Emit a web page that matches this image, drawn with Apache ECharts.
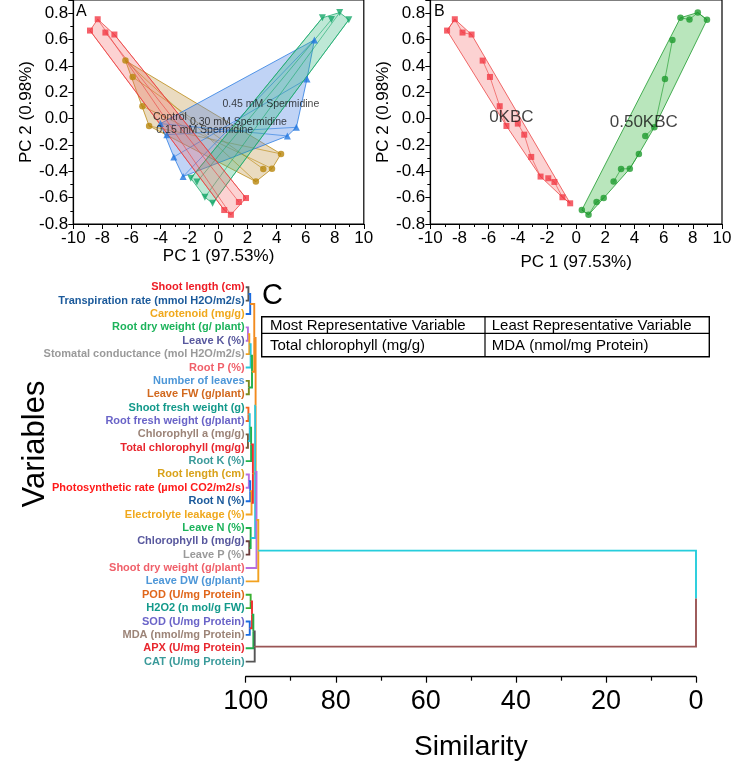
<!DOCTYPE html>
<html><head><meta charset="utf-8">
<script src="https://cdn.jsdelivr.net/npm/echarts@6/dist/echarts.min.js"></script>
<style>html,body{margin:0;padding:0;background:#fff}#c{width:744px;height:773px}</style>
</head><body><div id="c"></div>
<script>
// ---------- Panels A/B: PCA scores (PC1, PC2); each treatment: 4 obs at 0 KBC, 4 obs at 0.50 KBC ----------
const treatments = ['Control', '0.15 mM Spermidine', '0.30 mM Spermidine', '0.45 mM Spermidine'];
const ctrl_0KBC   = [[-8.85,0.668],[-8.32,0.754],[-7.79,0.653],[-7.17,0.638]];
const ctrl_50KBC  = [[0.39,-0.694],[0.85,-0.730],[1.40,-0.633],[1.89,-0.603]];
const sp15_0KBC   = [[-6.41,0.440],[-5.91,0.316],[-5.24,0.094],[-4.78,-0.056]];
const sp15_50KBC  = [[2.57,-0.478],[3.08,-0.382],[3.68,-0.380],[4.30,-0.268]];
const sp30_0KBC   = [[-4.00,-0.038],[-3.56,-0.122],[-3.08,-0.291],[-2.44,-0.440]];
const sp30_50KBC  = [[4.74,-0.132],[5.36,-0.066],[6.09,0.301],[6.60,0.597]];
const sp45_0KBC   = [[-1.91,-0.453],[-1.49,-0.481],[-0.94,-0.597],[-0.41,-0.643]];
const sp45_50KBC  = [[7.15,0.765],[7.77,0.752],[8.34,0.805],[8.97,0.750]];
// label anchors (data coords) for group names
const treatmentLabelPos = [[-4.55,0.008],[-4.32,-0.089],[-2.0,-0.028],[0.23,0.111]];
const kbcLevels = ['0KBC','0.50KBC'];
const kbcLabelPos = [[-6.0,0.012],[2.27,-0.03]];

// ---------- Panel C: dendrogram ----------
const leaves = ['Shoot length (cm)','Transpiration rate (mmol H2O/m2/s)','Carotenoid (mg/g)','Root dry weight (g/ plant)','Leave K (%)','Stomatal conductance (mol H2O/m2/s)','Root P (%)','Number of leaves','Leave FW (g/plant)','Shoot fresh weight (g)','Root fresh weight (g/plant)','Chlorophyll a (mg/g)','Total chlorophyll (mg/g)','Root K (%)','Root length (cm)','Photosynthetic rate (µmol CO2/m2/s)','Root N (%)','Electrolyte leakage (%)','Leave N (%)','Chlorophyll b (mg/g)','Leave P (%)','Shoot dry weight (g/plant)','Leave DW (g/plant)','POD (U/mg Protein)','H2O2 (n mol/g FW)','SOD (U/mg Protein)','MDA (nmol/mg Protein)','APX (U/mg Protein)','CAT (U/mg Protein)'];
const leafColors = ['#ee1c25','#1b5a9b','#f0a81c','#1cb35b','#58589e','#9a9a9a','#f0606a','#4d97d8','#d2691e','#12998a','#6a64c8','#9c8478','#e8262e','#3a9a9a','#d9a21a','#ff1a1a','#1b5a9b','#f0a81c','#1cb35b','#58589e','#9a9a9a','#f0606a','#4d97d8','#e0661a','#12998a','#6a64c8','#9c8478','#e8262e','#3a9a9a'];
// merges: [childA, childB, similarity]; leaves are 0..28, merge k creates node 29+k
const merges = [[0,1,99.4],[29,2,99.0],[3,4,99.5],[31,5,99.2],[32,6,98.9],[7,8,99.3],[33,34,98.6],[30,35,98.1],
  [9,10,99.4],[11,12,99.5],[37,38,99.1],[39,13,98.8],[14,15,99.3],[41,16,99.0],[42,17,98.7],[40,43,98.4],
  [36,44,97.8],[19,20,99.2],[18,46,98.9],[45,47,97.9],[48,21,97.6],[49,22,97.2],
  [23,24,98.9],[25,26,99.1],[51,52,98.6],[53,27,98.3],[54,28,98.0],[50,55,0]];
const mergeColors = [['#555555','#555555'],['#1a6be0','#1a6be0'],['#b76fe0','#b76fe0'],['#f2a11f','#f2a11f'],['#28c6d8','#28c6d8'],['#7a8a20','#7a8a20'],['#22b14c','#22b14c'],['#f28b1f','#f28b1f'],
  ['#f2641f','#f2641f'],['#7a5a3a','#7a5a3a'],['#28c6d8','#28c6d8'],['#22b14c','#22b14c'],['#b76fe0','#b76fe0'],['#1a6be0','#1a6be0'],['#f2a11f','#f2a11f'],['#ee3030','#ee3030'],
  ['#f28b1f','#f28b1f'],['#6a3a3a','#6a3a3a'],['#22b14c','#22b14c'],['#28c6d8','#28c6d8'],['#b76fe0','#b76fe0'],['#f2a11f','#f2a11f'],
  ['#39b030','#39b030'],['#1a6be0','#1a6be0'],['#ee3030','#ee3030'],['#22b14c','#22b14c'],['#555555','#555555'],['#26cddc','#9a5555']];
const tableHeader = ['Most Representative Variable','Least Representative Variable'];
const tableRow = ['Total chlorophyll (mg/g)','MDA (nmol/mg Protein)'];

// ---------- helpers ----------
function hull(pts){
  const p = pts.slice().sort((a,b)=>a[0]-b[0]||a[1]-b[1]);
  const cr=(o,a,b)=>(a[0]-o[0])*(b[1]-o[1])-(a[1]-o[1])*(b[0]-o[0]);
  const lo=[],up=[];
  for(const q of p){while(lo.length>=2&&cr(lo[lo.length-2],lo[lo.length-1],q)<=0)lo.pop();lo.push(q);}
  for(let i=p.length-1;i>=0;i--){const q=p[i];while(up.length>=2&&cr(up[up.length-2],up[up.length-1],q)<=0)up.pop();up.push(q);}
  up.pop();lo.pop();return lo.concat(up);
}
function hullSeries(xi, yi, pts, links, fill, stroke){
  const h = hull(pts);
  return {type:'custom', xAxisIndex:xi, yAxisIndex:yi, silent:true, z:1, clip:false,
    data: pts, encode:{x:0,y:1},
    renderItem(params, api){
      if (params.dataIndex !== 0) return null;
      const ch = [{type:'polygon', shape:{points:h.map(p=>api.coord(p))}, style:{fill:fill, stroke:stroke, lineWidth:1}}];
      links.forEach(([a,b])=>{const pa=api.coord(a), pb=api.coord(b);
        ch.push({type:'line', shape:{x1:pa[0],y1:pa[1],x2:pb[0],y2:pb[1]}, style:{stroke:stroke, lineWidth:0.8}});});
      return {type:'group', children:ch};
    }};
}
function pairLinks(a,b){return a.map((p,i)=>[p,b[i]]);}
function seqLinks(a){const r=[];for(let i=0;i<a.length-1;i++)r.push([a[i],a[i+1]]);return r;}

const FONT = 'Liberation Sans, Arial, sans-serif';
const groupsA = [
  {p0:ctrl_0KBC, p50:ctrl_50KBC, color:'#f23a45', symbol:'rect', size:6, rot:0, fill:'rgba(245,95,95,0.28)', stroke:'rgba(235,60,60,0.75)'},
  {p0:sp15_0KBC, p50:sp15_50KBC, color:'#b8860b', symbol:'circle', size:6.5, rot:0, fill:'rgba(200,160,90,0.38)', stroke:'rgba(184,134,11,0.75)'},
  {p0:sp30_0KBC, p50:sp30_50KBC, color:'#2277e0', symbol:'triangle', size:7, rot:0, fill:'rgba(90,140,230,0.38)', stroke:'rgba(34,119,224,0.75)'},
  {p0:sp45_0KBC, p50:sp45_50KBC, color:'#16a86a', symbol:'triangle', size:7, rot:180, fill:'rgba(40,180,120,0.30)', stroke:'rgba(22,168,106,0.75)'}
];
const series = [];
[1,2,3,0].forEach(i=>{const g=groupsA[i];
  series.push(hullSeries(0,0,g.p0.concat(g.p50), pairLinks(g.p0,g.p50), g.fill, g.stroke));});
groupsA.forEach((g,i)=>series.push({type:'scatter', xAxisIndex:0, yAxisIndex:0, z:5, name:treatments[i],
  symbol:g.symbol, symbolSize:g.size, symbolRotate:g.rot, itemStyle:{color:g.color}, data:g.p0.concat(g.p50)}));
series.push({type:'scatter', xAxisIndex:0, yAxisIndex:0, z:6, symbolSize:1, itemStyle:{color:'transparent'},
  label:{show:true, position:'right', distance:0, formatter:p=>p.name, fontSize:10.5, color:'#111', fontFamily:FONT},
  data: treatments.map((t,i)=>({name:t, value:treatmentLabelPos[i]}))});

// Panel B
const all0 = [ctrl_0KBC, sp15_0KBC, sp30_0KBC, sp45_0KBC];
const all50 = [ctrl_50KBC, sp15_50KBC, sp30_50KBC, sp45_50KBC];
const links0 = [].concat(...all0.map(seqLinks)), links50 = [].concat(...all50.map(seqLinks));
series.push(hullSeries(1,1,[].concat(...all0), links0, 'rgba(245,95,95,0.28)', 'rgba(235,60,60,0.75)'));
series.push(hullSeries(1,1,[].concat(...all50), links50, 'rgba(70,190,80,0.38)', 'rgba(30,155,46,0.8)'));
series.push({type:'scatter', xAxisIndex:1, yAxisIndex:1, z:5, symbol:'rect', symbolSize:6, itemStyle:{color:'#f23a45'}, data:[].concat(...all0)});
series.push({type:'scatter', xAxisIndex:1, yAxisIndex:1, z:5, symbol:'circle', symbolSize:6.5, itemStyle:{color:'#1e9b2e'}, data:[].concat(...all50)});
series.push({type:'scatter', xAxisIndex:1, yAxisIndex:1, z:6, symbolSize:1, itemStyle:{color:'transparent'},
  label:{show:true, position:'right', distance:0, formatter:p=>p.name, fontSize:17, color:'#111', fontFamily:FONT},
  data: kbcLevels.map((t,i)=>({name:t, value:kbcLabelPos[i]}))});

// Panel C dendrogram: compute node positions from the tree
const nodeSim = leaves.map(()=>100), nodePos = leaves.map((_,i)=>i);
merges.forEach(([a,b,s])=>{nodeSim.push(s); nodePos.push((nodePos[a]+nodePos[b])/2);});
const dendroData = merges.map(([a,b,s],k)=>[nodeSim[a],nodePos[a],nodeSim[b],nodePos[b],s,k]);
series.push({type:'custom', xAxisIndex:2, yAxisIndex:3, silent:true, clip:false, z:3,
  data: dendroData, encode:{x:[0,2,4], y:[1,3]},
  renderItem(params, api){
    const k = api.value(5);
    const pA=api.coord([api.value(0),api.value(1)]), pAm=api.coord([api.value(4),api.value(1)]);
    const pB=api.coord([api.value(2),api.value(3)]), pBm=api.coord([api.value(4),api.value(3)]);
    const mid=(pAm[1]+pBm[1])/2;
    const c = mergeColors[k];
    return {type:'group', children:[
      {type:'polyline', shape:{points:[pA,pAm,[pAm[0],mid]]}, style:{stroke:c[0], lineWidth:1.9, fill:null}},
      {type:'polyline', shape:{points:[pB,pBm,[pBm[0],mid]]}, style:{stroke:c[1], lineWidth:1.9, fill:null}}
    ]};
  }});

const pcX = (gi, gap)=>({gridIndex:gi, type:'value', min:-10, max:10, interval:2,
  axisLine:{onZero:false, lineStyle:{color:'#000', width:1.2}}, axisTick:{length:5, lineStyle:{color:'#000'}},
  minorTick:{show:true, splitNumber:2, length:3, lineStyle:{color:'#000'}}, splitLine:{show:false},
  axisLabel:{fontSize:17, color:'#000', margin:6, fontFamily:FONT},
  name:'PC 1 (97.53%)', nameLocation:'middle', nameGap:gap, nameTextStyle:{fontSize:17, color:'#000', fontFamily:FONT}});
const pcY = (gi)=>({gridIndex:gi, type:'value', min:-0.8, max:0.9, interval:0.2,
  axisLine:{onZero:false, lineStyle:{color:'#000', width:1.2}}, axisTick:{length:5, lineStyle:{color:'#000'}},
  minorTick:{show:true, splitNumber:2, length:3, lineStyle:{color:'#000'}}, splitLine:{show:false},
  axisLabel:{fontSize:17, color:'#000', margin:5, fontFamily:FONT, formatter:v=>v>0.85?'':v.toFixed(1)},
  name:'PC 2 (0.98%)', nameLocation:'middle', nameGap:38, nameRotate:90, nameTextStyle:{fontSize:17, color:'#000', fontFamily:FONT}});

const option = {
  animation:false,
  textStyle:{fontFamily:FONT},
  grid:[
    {left:73.3, top:0, width:290.5, height:224, show:true, borderColor:'#000', borderWidth:1.2, containLabel:false},
    {left:430.3, top:0, width:291.7, height:224, show:true, borderColor:'#000', borderWidth:1.2, containLabel:false},
    {left:245.7, top:280.6, width:450.3, height:387.7, containLabel:false}
  ],
  xAxis:[pcX(0,22), pcX(1,30),
    {gridIndex:2, type:'value', min:0, max:100, interval:20, inverse:true, offset:8.4, position:'bottom',
     axisLine:{onZero:false, lineStyle:{color:'#000', width:1.3}}, axisTick:{length:6, lineStyle:{color:'#000', width:1.2}},
     minorTick:{show:true, splitNumber:2, length:4, lineStyle:{color:'#000', width:1.2}}, splitLine:{show:false},
     axisLabel:{fontSize:27, color:'#000', margin:11, fontFamily:FONT},
     name:'Similarity', nameLocation:'middle', nameGap:57, nameTextStyle:{fontSize:28, color:'#000', fontFamily:FONT}}],
  yAxis:[pcY(0), pcY(1),
    {gridIndex:2, type:'category', data:leaves, inverse:true, axisLine:{show:false}, axisTick:{show:false},
     axisLabel:{interval:0, fontSize:11, fontWeight:'bold', margin:1, fontFamily:FONT, color:(v,i)=>leafColors[i]}},
    {gridIndex:2, type:'value', min:-0.5, max:28.5, inverse:true, show:false, axisLine:{onZero:false}}],
  graphic:[
    {type:'text', left:76, top:4, style:{text:'A', fontSize:16, fill:'#000', fontFamily:FONT}},
    {type:'text', left:434, top:4, style:{text:'B', fontSize:16, fill:'#000', fontFamily:FONT}},
    {type:'text', x:262, y:296, style:{text:'C', fontSize:29, fill:'#000', fontFamily:FONT, verticalAlign:'middle'}},
    {type:'text', x:35, y:444, rotation:Math.PI/2, style:{text:'Variables', fontSize:31, fill:'#000', fontFamily:FONT, align:'center', verticalAlign:'middle'}},
    {type:'rect', shape:{x:261.7, y:316.7, width:447.6, height:40}, style:{fill:'#fff', stroke:'#000', lineWidth:1.4}, z:10},
    {type:'line', shape:{x1:261.7, y1:333.3, x2:709.3, y2:333.3}, style:{stroke:'#000', lineWidth:1.2}, z:11},
    {type:'line', shape:{x1:485, y1:316.7, x2:485, y2:356.7}, style:{stroke:'#000', lineWidth:1.2}, z:11},
    {type:'text', x:270, y:325.5, z:12, style:{text:tableHeader[0], fontSize:15, fill:'#000', fontFamily:FONT, verticalAlign:'middle'}},
    {type:'text', x:491.7, y:325.5, z:12, style:{text:tableHeader[1], fontSize:15, fill:'#000', fontFamily:FONT, verticalAlign:'middle'}},
    {type:'text', x:270, y:345.5, z:12, style:{text:tableRow[0], fontSize:15, fill:'#000', fontFamily:FONT, verticalAlign:'middle'}},
    {type:'text', x:491.7, y:345.5, z:12, style:{text:tableRow[1], fontSize:15, fill:'#000', fontFamily:FONT, verticalAlign:'middle'}}
  ],
  series: series
};
const chart = echarts.init(document.getElementById('c'), null, {renderer:'canvas'});
chart.setOption(option);
</script></body></html>
